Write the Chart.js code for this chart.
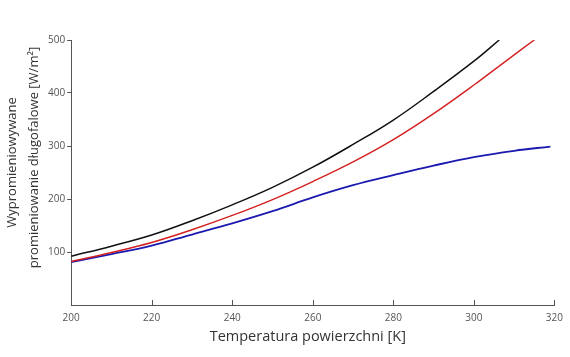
<!DOCTYPE html>
<html>
<head>
<meta charset="utf-8">
<script src="https://cdn.jsdelivr.net/npm/chart.js@4/dist/chart.umd.min.js"></script>
<style>
html,body{margin:0;padding:0;background:#fff;}
#wrap{width:570px;height:357px;position:relative;}
</style>
</head>
<body>
<div id="wrap"><canvas id="c" width="570" height="357"></canvas></div>
<script>
const blackT = [200, 210, 220, 230, 240, 250, 260, 270, 280, 290, 300, 306.3];
const blackV = [92, 111, 132, 159, 189, 222, 260, 303, 349, 403, 460, 500];
const redT = [200, 210, 220, 230, 240, 250, 260, 270, 280, 290, 300, 310, 315];
const redV = [82, 99, 118, 142, 169, 199, 233, 270, 312, 361, 415, 472, 500];
const blueT = [200, 210, 220, 230, 240, 250, 260, 270, 280, 290, 300, 310, 319];
const blueV = [81, 96, 112, 133, 154, 177, 203, 226, 245, 263, 279, 291, 299];
const xTicks = [200, 220, 240, 260, 280, 300, 320];
const yTicks = [100, 200, 300, 400, 500];
const xTitle = 'Temperatura powierzchni [K]';
const yTitle = ['Wypromieniowywane', 'promieniowanie długofalowe [W/m²]'];

function pts(t, v){ return t.map((x,i)=>({x:x, y:v[i]})); }

const extras = {
  id:'extras',
  afterDraw(chart){
    const xs = chart.scales.x, ctx = chart.ctx, a = chart.chartArea;
    ctx.save();
    ctx.strokeStyle = '#555'; ctx.lineWidth = 1;
    xs.ticks.forEach(t=>{
      const px = Math.round(xs.getPixelForValue(t.value)) + 0.5;
      ctx.beginPath(); ctx.moveTo(px, a.bottom); ctx.lineTo(px, a.bottom - 5); ctx.stroke();
    });
    ctx.fillStyle = '#333';
    ctx.textAlign = 'center'; ctx.textBaseline = 'middle';
    ctx.font = '14.5px "Open Sans"';
    ctx.fillText(xTitle, (a.left + a.right) / 2 - 5, a.bottom + 32);
    ctx.font = '13px "Open Sans"';
    const cy = (a.top + a.bottom) / 2;
    [[12.5, cy - 10], [34, cy - 15]].forEach((p, i)=>{
      ctx.save();
      ctx.translate(p[0], p[1]);
      ctx.rotate(-Math.PI / 2);
      ctx.fillText(yTitle[i], 0, 0);
      ctx.restore();
    });
    ctx.restore();
  }
};

new Chart(document.getElementById('c'), {
  type:'line',
  data:{
    datasets:[
      {data:pts(blackT, blackV), borderColor:'#111', borderWidth:1.5, pointRadius:0, tension:0.4, fill:false},
      {data:pts(redT, redV), borderColor:'#d42020', borderWidth:1.4, pointRadius:0, tension:0.4, fill:false},
      {data:pts(blueT, blueV), borderColor:'#1a1ab0', borderWidth:1.8, pointRadius:0, tension:0.4, fill:false}
    ]
  },
  options:{
    responsive:false,
    animation:false,
    layout:{padding:{left:46, right:4, top:40, bottom:26}},
    plugins:{legend:{display:false}, tooltip:{enabled:false}},
    scales:{
      x:{
        type:'linear', min:200, max:320,
        afterBuildTicks:(s)=>{ s.ticks = xTicks.map(v=>({value:v})); },
        grid:{drawOnChartArea:false, drawTicks:false},
        border:{color:'#555', width:1},
        ticks:{color:'#555', font:{family:'Open Sans', size:10}, padding:7, maxRotation:0}
      },
      y:{
        type:'linear', min:0, max:500,
        afterBuildTicks:(s)=>{ s.ticks = yTicks.map(v=>({value:v})); },
        grid:{drawOnChartArea:false, drawTicks:true, tickLength:4, color:'#555'},
        border:{color:'#555', width:1},
        ticks:{color:'#555', font:{family:'Open Sans', size:10}, padding:2}
      }
    }
  },
  plugins:[extras]
});
</script>
</body>
</html>
